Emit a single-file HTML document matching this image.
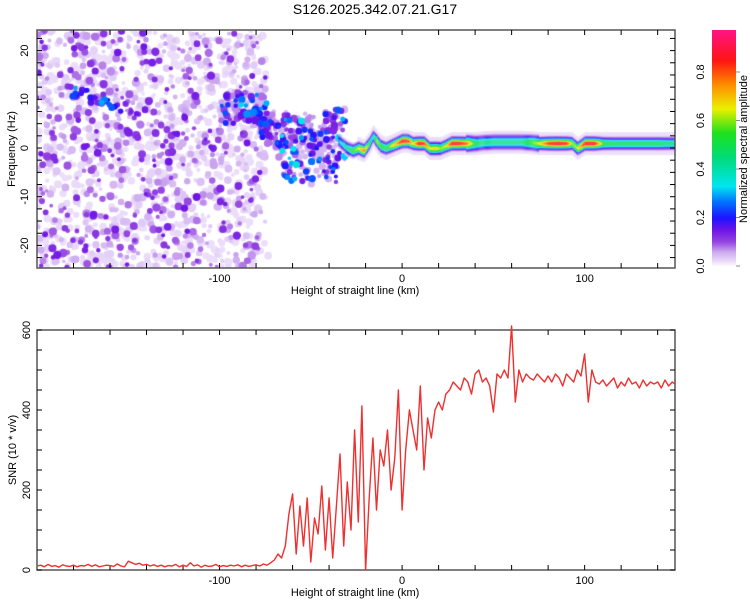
<!DOCTYPE html>
<html><head><meta charset="utf-8"><style>
body{margin:0;background:#fff;width:750px;height:600px;overflow:hidden;font-family:"Liberation Sans",sans-serif}
#wrap{position:relative;width:750px;height:600px}
canvas{position:absolute;left:37px;top:30px}
svg{position:absolute;left:0;top:0}
text{font-family:"Liberation Sans",sans-serif;fill:#000}
</style></head><body>
<div id="wrap">
<canvas id="hm" width="638" height="238"></canvas>
<canvas id="cb" width="24" height="238" style="left:712px;top:30px"></canvas>
<svg id="svg" width="750" height="600"></svg>
</div>
<script>
// ---- data ----
const westH=[-178,-173,-168,-163,-158,-153,-148];
const westF=[11.5,11,10,9,8.5,8.5,7];
const westA=[0.3,0.25,0.2,0.3,0.25,0.2,0.15];
const midH=[-95,-88,-82,-78,-74,-70,-66,-62,-58,-54,-50,-46,-42,-38,-34];
const midF=[8,9,8.5,7.5,5,3,1,0,0,1,-1,0,2,0,2];
const midA=[0.2,0.3,0.25,0.3,0.2,0.25,0.25,0.3,0.3,0.25,0.2,0.25,0.2,0.2,0.3];
const ridgeH=[-35,-30,-27,-24,-21,-18,-16,-14,-12,-9,-6,-3,0,3,6,9,12,15,18,21,24,27,30,35,40,45,50,55,60,65,70,75,80,85,90,93,96,100,105,110,115,120,130,140,150];
const ridgeF=[1.5,0,-0.5,0,-0.5,1,2.5,1.5,0.5,0,0.5,1,1.5,1.5,1,1,1,0,0,0,0.5,1,1,1,1,1.2,1.3,1.3,1.3,1.3,1.2,1,1,1,1,1,0,1,1,1,1,1,1,1,1];
const ridgeA=[0.3,0.45,0.55,0.65,0.8,0.5,0.35,0.65,0.55,0.5,0.65,0.75,0.9,0.85,0.65,0.9,0.85,0.65,0.7,0.6,0.65,0.9,0.9,0.8,0.5,0.45,0.45,0.45,0.45,0.45,0.55,0.65,0.85,0.9,0.85,0.6,0.65,0.9,0.9,0.55,0.5,0.5,0.5,0.5,0.45];
const snrStart=-200, snrStep=2;
const snrValues=[10,12,8,14,9,11,7,13,10,9,
12,8,11,10,14,9,13,8,10,12,
11,9,15,10,8,22,18,14,17,12,
14,10,13,9,12,8,11,10,14,8,
12,9,18,10,13,7,12,9,10,14,
8,11,9,12,10,13,8,12,9,11,
13,10,15,12,18,25,40,30,60,140,
190,40,160,60,180,20,130,90,210,50,
180,30,160,290,60,220,100,350,120,410,
0,180,330,150,300,260,350,200,280,450,
150,300,400,350,300,460,250,380,330,400,
420,400,440,450,470,460,450,480,470,440,
490,500,470,480,460,395,490,480,500,480,
610,420,500,470,490,480,475,490,480,470,
485,470,490,480,460,490,480,470,500,485,
540,420,500,470,465,475,460,470,480,455,
470,460,480,465,470,455,475,460,470,465,
470,455,475,460,470,465];
const xTicks=[-100,0,100];
const fTicks=[-20,-10,0,10,20];
const snrTicks=[0,200,400,600];
const cbTicks=[0.0,0.2,0.4,0.6,0.8];

// ---- scales ----
const xMin=-200,xMax=149.5,pL=37,pR=675;
const X=h=>pL+(h-xMin)/(xMax-xMin)*(pR-pL);
const YF=f=>148-f*4.87;
const YS=s=>570-s*0.4;
const YC=v=>266-v*242.5;

const stops=[[0,[255,255,255]],[0.02,[236,222,250]],[0.06,[205,170,240]],[0.1,[150,70,225]],[0.15,[110,20,230]],[0.2,[30,20,255]],[0.27,[0,120,255]],[0.33,[0,230,240]],[0.45,[0,220,120]],[0.55,[30,225,30]],[0.65,[235,240,0]],[0.75,[255,140,0]],[0.85,[255,20,20]],[0.97,[255,20,130]]];
function cmap(v){v=Math.max(0,Math.min(0.97,v));for(let i=1;i<stops.length;i++){if(v<=stops[i][0]){const a=stops[i-1],b=stops[i];const t=(v-a[0])/(b[0]-a[0]);return 'rgb('+a[1].map((c,k)=>Math.round(c+(b[1][k]-c)*t)).join(',')+')';}}return 'rgb(255,20,130)';}
function interp(xs,ys,x){if(x<=xs[0])return ys[0];for(let i=1;i<xs.length;i++){if(x<=xs[i]){const t=(x-xs[i-1])/(xs[i]-xs[i-1]);return ys[i-1]+(ys[i]-ys[i-1])*t;}}return ys[ys.length-1];}

// texture seed (decorative noise field only)
let seed=12345;const rnd=()=>(seed=(seed*1103515245+12345)%2147483648)/2147483648;

const cv=document.getElementById('hm'),ctx=cv.getContext('2d');
const blobs=[];
for(let i=0;i<1700;i++){const h=-200+rnd()*(122+rnd()*5);const f=-24.6+rnd()*48.8;const r=rnd();blobs.push([h,f,0.02+r*r*r*r*0.13,1.8+rnd()*2.4]);}
for(let i=0;i<midH.length;i++){for(let k=0;k<30;k++){const h=midH[i]+(rnd()-0.5)*8;const f=midF[i]+(rnd()-0.5)*(h>-65?14:6);const r=rnd();blobs.push([h,f,0.05+midA[i]*r*r*r*1.0,1.8+rnd()*2]);}}
for(let i=0;i<westH.length;i++){for(let k=0;k<5;k++){blobs.push([westH[i]+(rnd()-0.5)*5,westF[i]+(rnd()-0.5)*2,westA[i]*(0.5+rnd()*0.5),2+rnd()*1.5]);}}
blobs.sort((a,b)=>a[2]-b[2]);
ctx.filter='blur(0.7px)';
for(const b of blobs){ctx.fillStyle=cmap(b[2]);ctx.beginPath();ctx.arc(X(b[0])-pL,YF(b[1])-30,b[3],0,7);ctx.fill();}
// ridge
ctx.filter='none';
for(let px=X(-35);px<=pR;px++){
  const h=xMin+(px-pL)/(pR-pL)*(xMax-xMin);
  const f=interp(ridgeH,ridgeF,h),a=interp(ridgeH,ridgeA,h);
  const w=(h>35&&h<75)?1.15:0.95;
  const cy=YF(f);
  for(let dy=-22;dy<=22;dy++){
    const d=dy/4.87;
    let v=a*Math.exp(-Math.pow(d/w,2));
    const halo=0.035*Math.exp(-Math.pow(d/3.2,2));
    if(h>-25)v=Math.max(v,halo);
    if(v>0.02){ctx.fillStyle=cmap(v);ctx.fillRect(px-pL,cy+dy-30,1.2,1);}
  }
}
// colorbar
const cb=document.getElementById('cb').getContext('2d');
for(let y=0;y<238;y++){const v=(266-(y+30))/242.5;cb.fillStyle=cmap(v);cb.fillRect(0,y,24,1);}

// ---- svg ----
const svg=document.getElementById('svg');const NS='http://www.w3.org/2000/svg';
function el(t,a,p){const e=document.createElementNS(NS,t);for(const k in a)e.setAttribute(k,a[k]);(p||svg).appendChild(e);return e;}
function txt(s,x,y,size,anchor,rot,name){const e=el('text',{x:x,y:y,'font-size':size,'text-anchor':anchor||'middle'});if(rot)e.setAttribute('transform','rotate(-90 '+x+' '+y+')');e.textContent=s;


return e;}

txt('S126.2025.342.07.21.G17',375,14,14,'middle',false,'chart-title');

function frame(top,bot,yTickFn,yMinorStep,yLo,yHi,prefix){
  const r=el('rect',{x:pL,y:top,width:pR-pL,height:bot-top,fill:'none',stroke:'#555','stroke-width':1.5});
  
  
  for(let h=-180;h<=140;h+=20){const x=X(h);el('line',{x1:x,y1:bot,x2:x,y2:bot-5,stroke:'#000'});el('line',{x1:x,y1:top,x2:x,y2:top+5,stroke:'#000'});}
  for(let v=yLo;v<=yHi;v+=yMinorStep){const y=yTickFn(v);if(y<top-0.5||y>bot+0.5)continue;el('line',{x1:pL,y1:y,x2:pL+5,y2:y,stroke:'#000'});el('line',{x1:pR,y1:y,x2:pR-5,y2:y,stroke:'#000'});}
  for(const h of xTicks){txt(String(h),X(h),bot+14,11,'middle',false,prefix+'-x-tick-label');}
  txt('Height of straight line (km)',X(0)-47,bot+26,11,'middle',false,prefix+'-x-axis-title');
}
frame(30,268,YF,2.5,-25,25,'spectrogram');
for(const f of fTicks)txt(String(f),28,YF(f),11,'middle',true,'frequency-tick-label');
txt('Frequency (Hz)',15,149,11,'middle',true,'frequency-axis-title');
frame(330,570,YS,50,0,600,'snr');
for(const s of snrTicks)txt(String(s),30,YS(s),11,'middle',true,'snr-tick-label');
txt('SNR (10 * v/v)',16,450,11,'middle',true,'snr-axis-title');
for(const c of cbTicks){txt(c.toFixed(1),704,YC(c),11,'middle',true,'colorbar-tick-label');el('line',{x1:736,y1:YC(c),x2:740,y2:YC(c),stroke:'#888'});}
txt('Normalized spectral amplitude',747,149,11,'middle',true,'colorbar-title');

// SNR line
let d='';snrValues.forEach((s,i)=>{const h=snrStart+i*snrStep;d+=(i?'L':'M')+X(Math.min(h,xMax)).toFixed(1)+','+YS(s).toFixed(1);});
const p=el('path',{d:d,fill:'none',stroke:'#ee3030','stroke-width':1.4,'stroke-linejoin':'round'});


</script>
</body></html>
